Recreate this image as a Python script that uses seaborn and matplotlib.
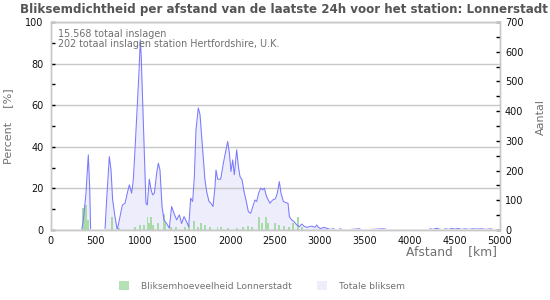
import numpy as np
import pandas as pd
import matplotlib
matplotlib.use("Agg")
import matplotlib.pyplot as plt
from matplotlib.ticker import MultipleLocator
from matplotlib.patches import Patch, Rectangle
import seaborn as sns

# ---------------- data ----------------
title = "Bliksemdichtheid per afstand van de laatste 24h voor het station: Lonnerstadt"
info_lines = ["15.568 totaal inslagen", "202 totaal inslagen station Hertfordshire, U.K."]
series_names = ["Bliksemhoeveelheid Lonnerstadt", "Totale bliksem"]

# total strikes (right axis, Aantal)
blue_km = [0, 340, 347, 366, 395, 421, 436, 447, 600, 607, 625, 655, 674, 692, 718, 744,
           774, 800, 830, 855, 878, 904, 922, 941, 967, 985, 1000, 1010, 1023, 1041, 1063,
           1078, 1100, 1120, 1138, 1157, 1182, 1201, 1219, 1242, 1264, 1293, 1323, 1349,
           1375, 1405, 1435, 1460, 1487, 1516, 1539, 1561, 1583, 1602, 1620, 1646, 1665,
           1683, 1702, 1720, 1739, 1765, 1787, 1810, 1832, 1843, 1862, 1895, 1925, 1947,
           1973, 1992, 2010, 2029, 2047, 2073, 2092, 2110, 2133, 2155, 2177, 2203, 2229,
           2258, 2277, 2296, 2318, 2340, 2363, 2381, 2407, 2444, 2474, 2504, 2526, 2548,
           2567, 2593, 2622, 2645, 2660, 2686, 2713, 2742, 2772, 2797, 2823, 2853, 2883,
           2909, 2946, 2965, 2983, 3009, 3039, 3076, 3113, 3150, 3187, 3230, 3260, 3440,
           3470, 3700, 3730, 3760, 4200, 4230, 4260, 4300, 4330, 4360, 4400, 4430, 4470,
           4500, 4540, 4580, 4620, 4660, 4700, 4750, 4800, 4850, 4900, 4950, 5000]
blue_cnt = [0, 0, 0, 34, 124, 253, 146, 0, 0, 0, 101, 247, 202, 101, 45, 0,
            45, 84, 90, 124, 152, 124, 169, 270, 427, 529, 640, 585, 461, 281, 90,
            84, 171, 135, 118, 124, 191, 225, 202, 79, 34, 22, 6, 79,
            56, 34, 51, 22, 45, 28, 11, 107, 96, 180, 337, 411, 388,
            315, 236, 169, 129, 96, 90, 79, 146, 202, 171, 171, 225, 259,
            298, 259, 197, 236, 186, 270, 214, 180, 169, 129, 101, 62, 56,
            84, 101, 96, 124, 141, 135, 141, 112, 90, 101, 105, 124, 163,
            124, 96, 92, 90, 45, 34, 28, 17, 11, 20, 13, 9, 11,
            13, 9, 17, 9, 4, 9, 6, 2, 4, 0, 4, 0, 4,
            0, 4, 3, 0, 0, 4, 2, 6, 3, 0, 4, 2, 5,
            3, 5, 2, 4, 2, 4, 3, 4, 2, 4, 0, 0]

# station share (left axis, Percent)
green_km = [360, 380, 400, 420, 680, 760, 940, 1000, 1040, 1080, 1100, 1120, 1140, 1200,
            1260, 1280, 1340, 1400, 1500, 1540, 1600, 1640, 1680, 1720, 1780, 1860, 1900,
            1980, 2080, 2140, 2200, 2240, 2320, 2360, 2400, 2420, 2500, 2540, 2600, 2660,
            2700, 2760, 2800]
green_pct = [10.4, 12.0, 12.0, 5.0, 6.4, 0.8, 1.6, 2.4, 2.4, 6.4, 3.2, 6.4, 2.4, 3.2,
             7.7, 3.2, 1.6, 1.6, 1.6, 2.4, 4.3, 1.6, 3.2, 2.4, 1.6, 1.6, 1.6,
             0.8, 1.1, 1.6, 1.9, 1.6, 6.4, 3.2, 6.4, 3.2, 3.5, 2.4, 1.9, 1.6,
             3.2, 6.4, 1.6]

x_ticks = list(range(0, 5001, 500))
left_ticks = [0, 20, 40, 60, 80, 100]
right_ticks = list(range(0, 701, 100))

# ---------------- style ----------------
sns.set_theme(style="white")
plt.rcParams["font.family"] = ["DejaVu Sans"]

GREEN = "#a8dba8"
LINE = "#7a7aff"
FILL = "#ededfb"
SPINE = "#c8c8c8"
GREY_TXT = "#707070"

fig = plt.figure(figsize=(5.5, 3), dpi=100)
fig.patch.set_facecolor("white")
ax = fig.add_axes([50.5 / 550, 70 / 300, 449 / 550, 208 / 300])
ax2 = ax.twinx()
ax2.set_ylim(0, 700)

# fill (behind bars) on the left axes using the right axis scale
ax.fill_between(blue_km, blue_cnt, 0, color=FILL, lw=0, zorder=0.2,
                transform=ax2.transData)

df_g = pd.DataFrame({"km": green_km, "pct": green_pct})
sns.barplot(data=df_g, x="km", y="pct", native_scale=True, ax=ax, color=GREEN,
            saturation=1, width=1.05, linewidth=0, zorder=1)

df_b = pd.DataFrame({"km": blue_km, "cnt": blue_cnt})
sns.lineplot(data=df_b, x="km", y="cnt", ax=ax2, color=LINE, lw=0.75, zorder=3)
# hide the part of the line lying on the zero level (as in the reference)
clip_rect = Rectangle((0, 0.005), 1, 1.1, transform=ax2.transAxes, facecolor="none")
for ln in ax2.lines:
    ln.set_clip_path(clip_rect)

ax.set_xlim(0, 5000)
ax.set_ylim(0, 100)
ax2.set_ylim(0, 700)
ax.set_axisbelow(True)
ax.yaxis.grid(True, color="#c8c8c8", lw=1)
ax.xaxis.grid(False)
ax2.grid(False)

ax.set_xticks(x_ticks)
ax.set_xticklabels([str(t) for t in x_ticks])
ax.xaxis.set_minor_locator(MultipleLocator(100))
ax.set_yticks(left_ticks)
ax.set_yticklabels([str(t) for t in left_ticks])
ax.yaxis.set_minor_locator(MultipleLocator(10))
ax2.set_yticks(right_ticks)
ax2.set_yticklabels([str(t) for t in right_ticks])
ax2.yaxis.set_minor_locator(MultipleLocator(50))

for a in (ax, ax2):
    a.set_xlabel("")
    a.set_ylabel("")
    for s in a.spines.values():
        s.set_color(SPINE)
        s.set_linewidth(1)
        s.set_zorder(5)

ax.tick_params(axis="x", which="major", direction="in", length=4, width=1,
               color="black", labelsize=7, pad=4, labelcolor="#111")
ax.tick_params(axis="x", which="minor", direction="in", length=2.5, width=1, color="black")
ax.tick_params(axis="y", which="major", direction="in", length=3, width=1,
               color="black", labelsize=7, pad=5, labelcolor="#111")
ax.tick_params(axis="y", which="minor", direction="in", length=3, width=1, color="black")
ax2.tick_params(axis="y", which="major", direction="in", length=3, width=1,
                color="black", labelsize=7, pad=4, labelcolor="#111")
ax2.tick_params(axis="y", which="minor", direction="in", length=3, width=1, color="black")

# texts
fig.text(283.5 / 550, 1 - 10 / 300, title, ha="center", va="center",
         fontsize=8.6, fontweight="bold", color="#555555")
fig.text(58 / 550, 1 - 34 / 300, info_lines[0], ha="left", va="center",
         fontsize=6.9, color=GREY_TXT)
fig.text(58 / 550, 1 - 44 / 300, info_lines[1], ha="left", va="center",
         fontsize=6.9, color=GREY_TXT)
fig.text(8 / 550, 1 - 126 / 300, "Percent    [%]", rotation=90, ha="center",
         va="center", fontsize=8, color=GREY_TXT)
fig.text(541 / 550, 1 - 117 / 300, "Aantal", rotation=90, ha="center",
         va="center", fontsize=8, color=GREY_TXT)
fig.text(497 / 550, 1 - 252 / 300, "Afstand    [km]", ha="right", va="center",
         fontsize=8.8, color=GREY_TXT)

handles = [Patch(facecolor="#b5e2b5", edgecolor="none"),
           Patch(facecolor="#ededfc", edgecolor="none")]
fig.legend(handles, series_names, loc="center", bbox_to_anchor=(262 / 550, 1 - 286 / 300),
           ncol=2, frameon=False, fontsize=6.6, handlelength=1.1, handleheight=1.1,
           handletextpad=1.3, columnspacing=2.8, labelcolor=GREY_TXT)

fig.savefig("out.png", dpi=100, facecolor="white")
